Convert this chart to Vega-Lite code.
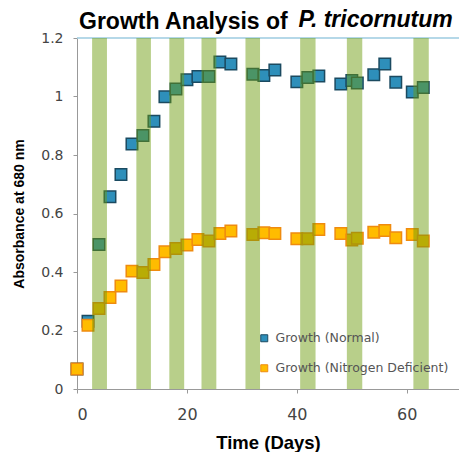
{
  "$schema": "https://vega.github.io/schema/vega-lite/v6.json",
  "width": 382,
  "height": 351,
  "autosize": {"type": "none"},
  "padding": {"left": 77, "top": 38, "right": 0, "bottom": 63},
  "background": "white",
  "title": {
    "text": "Growth Analysis of",
    "anchor": "start",
    "frame": "group",
    "dx": 2,
    "offset": -44,
    "baseline": "alphabetic",
    "font": "Liberation Sans",
    "fontSize": 23,
    "fontWeight": "bold",
    "color": "black"
  },
  "config": {
    "view": {"stroke": null},
    "axis": {"grid": false, "domainColor": "#999", "tickColor": "#999", "tickSize": 4}
  },
  "datasets": {
    "growth": [
      {"day": 0, "absorbance": 0.068, "series": "Growth (Normal)"},
      {"day": 2, "absorbance": 0.232, "series": "Growth (Normal)"},
      {"day": 4, "absorbance": 0.494, "series": "Growth (Normal)"},
      {"day": 6, "absorbance": 0.657, "series": "Growth (Normal)"},
      {"day": 8, "absorbance": 0.733, "series": "Growth (Normal)"},
      {"day": 10, "absorbance": 0.838, "series": "Growth (Normal)"},
      {"day": 12, "absorbance": 0.867, "series": "Growth (Normal)"},
      {"day": 14, "absorbance": 0.915, "series": "Growth (Normal)"},
      {"day": 16, "absorbance": 0.999, "series": "Growth (Normal)"},
      {"day": 18, "absorbance": 1.026, "series": "Growth (Normal)"},
      {"day": 20, "absorbance": 1.057, "series": "Growth (Normal)"},
      {"day": 22, "absorbance": 1.068, "series": "Growth (Normal)"},
      {"day": 24, "absorbance": 1.068, "series": "Growth (Normal)"},
      {"day": 26, "absorbance": 1.118, "series": "Growth (Normal)"},
      {"day": 28, "absorbance": 1.111, "series": "Growth (Normal)"},
      {"day": 32, "absorbance": 1.076, "series": "Growth (Normal)"},
      {"day": 34, "absorbance": 1.072, "series": "Growth (Normal)"},
      {"day": 36, "absorbance": 1.091, "series": "Growth (Normal)"},
      {"day": 40, "absorbance": 1.05, "series": "Growth (Normal)"},
      {"day": 42, "absorbance": 1.065, "series": "Growth (Normal)"},
      {"day": 44, "absorbance": 1.07, "series": "Growth (Normal)"},
      {"day": 48, "absorbance": 1.043, "series": "Growth (Normal)"},
      {"day": 50, "absorbance": 1.055, "series": "Growth (Normal)"},
      {"day": 51, "absorbance": 1.046, "series": "Growth (Normal)"},
      {"day": 54, "absorbance": 1.074, "series": "Growth (Normal)"},
      {"day": 56, "absorbance": 1.111, "series": "Growth (Normal)"},
      {"day": 58, "absorbance": 1.049, "series": "Growth (Normal)"},
      {"day": 61, "absorbance": 1.015, "series": "Growth (Normal)"},
      {"day": 63, "absorbance": 1.031, "series": "Growth (Normal)"},
      {"day": 0, "absorbance": 0.068, "series": "Growth (Nitrogen Deficient)"},
      {"day": 2, "absorbance": 0.218, "series": "Growth (Nitrogen Deficient)"},
      {"day": 4, "absorbance": 0.275, "series": "Growth (Nitrogen Deficient)"},
      {"day": 6, "absorbance": 0.313, "series": "Growth (Nitrogen Deficient)"},
      {"day": 8, "absorbance": 0.352, "series": "Growth (Nitrogen Deficient)"},
      {"day": 10, "absorbance": 0.403, "series": "Growth (Nitrogen Deficient)"},
      {"day": 12, "absorbance": 0.398, "series": "Growth (Nitrogen Deficient)"},
      {"day": 14, "absorbance": 0.426, "series": "Growth (Nitrogen Deficient)"},
      {"day": 16, "absorbance": 0.469, "series": "Growth (Nitrogen Deficient)"},
      {"day": 18, "absorbance": 0.48, "series": "Growth (Nitrogen Deficient)"},
      {"day": 20, "absorbance": 0.492, "series": "Growth (Nitrogen Deficient)"},
      {"day": 22, "absorbance": 0.511, "series": "Growth (Nitrogen Deficient)"},
      {"day": 24, "absorbance": 0.506, "series": "Growth (Nitrogen Deficient)"},
      {"day": 26, "absorbance": 0.532, "series": "Growth (Nitrogen Deficient)"},
      {"day": 28, "absorbance": 0.54, "series": "Growth (Nitrogen Deficient)"},
      {"day": 32, "absorbance": 0.528, "series": "Growth (Nitrogen Deficient)"},
      {"day": 34, "absorbance": 0.534, "series": "Growth (Nitrogen Deficient)"},
      {"day": 36, "absorbance": 0.532, "series": "Growth (Nitrogen Deficient)"},
      {"day": 40, "absorbance": 0.514, "series": "Growth (Nitrogen Deficient)"},
      {"day": 42, "absorbance": 0.514, "series": "Growth (Nitrogen Deficient)"},
      {"day": 44, "absorbance": 0.545, "series": "Growth (Nitrogen Deficient)"},
      {"day": 48, "absorbance": 0.532, "series": "Growth (Nitrogen Deficient)"},
      {"day": 50, "absorbance": 0.509, "series": "Growth (Nitrogen Deficient)"},
      {"day": 51, "absorbance": 0.515, "series": "Growth (Nitrogen Deficient)"},
      {"day": 54, "absorbance": 0.536, "series": "Growth (Nitrogen Deficient)"},
      {"day": 56, "absorbance": 0.542, "series": "Growth (Nitrogen Deficient)"},
      {"day": 58, "absorbance": 0.517, "series": "Growth (Nitrogen Deficient)"},
      {"day": 61, "absorbance": 0.528, "series": "Growth (Nitrogen Deficient)"},
      {"day": 63, "absorbance": 0.506, "series": "Growth (Nitrogen Deficient)"}
    ],
    "periods": [
      {"start": 2.75, "end": 5.45},
      {"start": 10.8, "end": 13.45},
      {"start": 16.8, "end": 19.5},
      {"start": 22.65, "end": 25.35},
      {"start": 30.65, "end": 33.3},
      {"start": 40.6, "end": 43.4},
      {"start": 49.1, "end": 51.9},
      {"start": 61.2, "end": 64.0}
    ]
  },
  "layer": [
    {
      "data": {"name": "growth"},
      "mark": {"type": "square", "size": 132, "filled": true, "strokeWidth": 1.5, "opacity": 1},
      "encoding": {
        "x": {
          "field": "day",
          "type": "quantitative",
          "scale": {"domain": [0, 69.5], "nice": false, "zero": false},
          "axis": {
            "orient": "bottom",
            "title": "Time (Days)",
            "values": [0, 20, 40, 60],
            "labelFont": "DejaVu Sans",
            "labelFontSize": 16,
            "labelColor": "#444",
            "labelPadding": 13,
            "titleFont": "Liberation Sans",
            "titleFontSize": 18.5,
            "titleFontWeight": "bold",
            "titleColor": "black",
            "titlePadding": 11
          }
        },
        "y": {
          "field": "absorbance",
          "type": "quantitative",
          "scale": {"domain": [0, 1.2], "nice": false},
          "axis": {
            "title": "Absorbance at 680 nm",
            "values": [0, 0.2, 0.4, 0.6, 0.8, 1, 1.2],
            "format": ".1~f",
            "labelFont": "DejaVu Sans",
            "labelFontSize": 14,
            "labelColor": "#444",
            "labelPadding": 10,
            "titleFont": "Liberation Sans",
            "titleFontSize": 14,
            "titleFontWeight": "bold",
            "titleColor": "black",
            "titlePadding": 14
          }
        },
        "fill": {
          "field": "series",
          "type": "nominal",
          "sort": null,
          "scale": {"domain": ["Growth (Normal)", "Growth (Nitrogen Deficient)"], "range": ["#2e8fba", "#ffbc00"]},
          "legend": {
            "orient": "none",
            "legendX": 181,
            "legendY": 294,
            "title": null,
            "padding": 0,
            "symbolType": "square",
            "symbolSize": 49,
            "symbolStrokeWidth": 1,
            "labelFont": "DejaVu Sans",
            "labelFontSize": 12.5,
            "labelColor": "#555",
            "labelOffset": 5,
            "rowPadding": 17,
            "labelLimit": 300
          }
        },
        "stroke": {
          "field": "series",
          "type": "nominal",
          "sort": null,
          "scale": {"domain": ["Growth (Normal)", "Growth (Nitrogen Deficient)"], "range": ["#1b4a60", "#ef8b0f"]},
          "legend": {
            "orient": "none",
            "legendX": 181,
            "legendY": 294,
            "title": null,
            "padding": 0,
            "symbolType": "square",
            "symbolSize": 49,
            "symbolStrokeWidth": 1,
            "labelFont": "DejaVu Sans",
            "labelFontSize": 12.5,
            "labelColor": "#555",
            "labelOffset": 5,
            "rowPadding": 17,
            "labelLimit": 300
          }
        }
      }
    },
    {
      "data": {"values": [{"level": 1.2}]},
      "mark": {"type": "rule", "color": "#9ccbe0", "strokeWidth": 1.5},
      "encoding": {
        "y": {"field": "level", "type": "quantitative"}
      }
    },
    {
      "data": {"name": "periods"},
      "mark": {"type": "rect", "color": "#6a9a0a", "opacity": 0.48},
      "encoding": {
        "x": {
          "field": "start",
          "type": "quantitative",
          "scale": {"domain": [0, 69.5], "nice": false, "zero": false},
          "axis": {
            "orient": "top",
            "title": "P. tricornutum",
            "domain": false,
            "ticks": false,
            "labels": false,
            "titleX": 221,
            "titleY": -12,
            "titleAlign": "left",
            "titleAnchor": null,
            "titleBaseline": "alphabetic",
            "titleAngle": 0,
            "titleFont": "Liberation Sans",
            "titleFontSize": 23,
            "titleFontWeight": "bold",
            "titleFontStyle": "italic",
            "titleColor": "black"
          }
        },
        "x2": {"field": "end"}
      }
    }
  ],
  "resolve": {"axis": {"x": "independent"}}
}
